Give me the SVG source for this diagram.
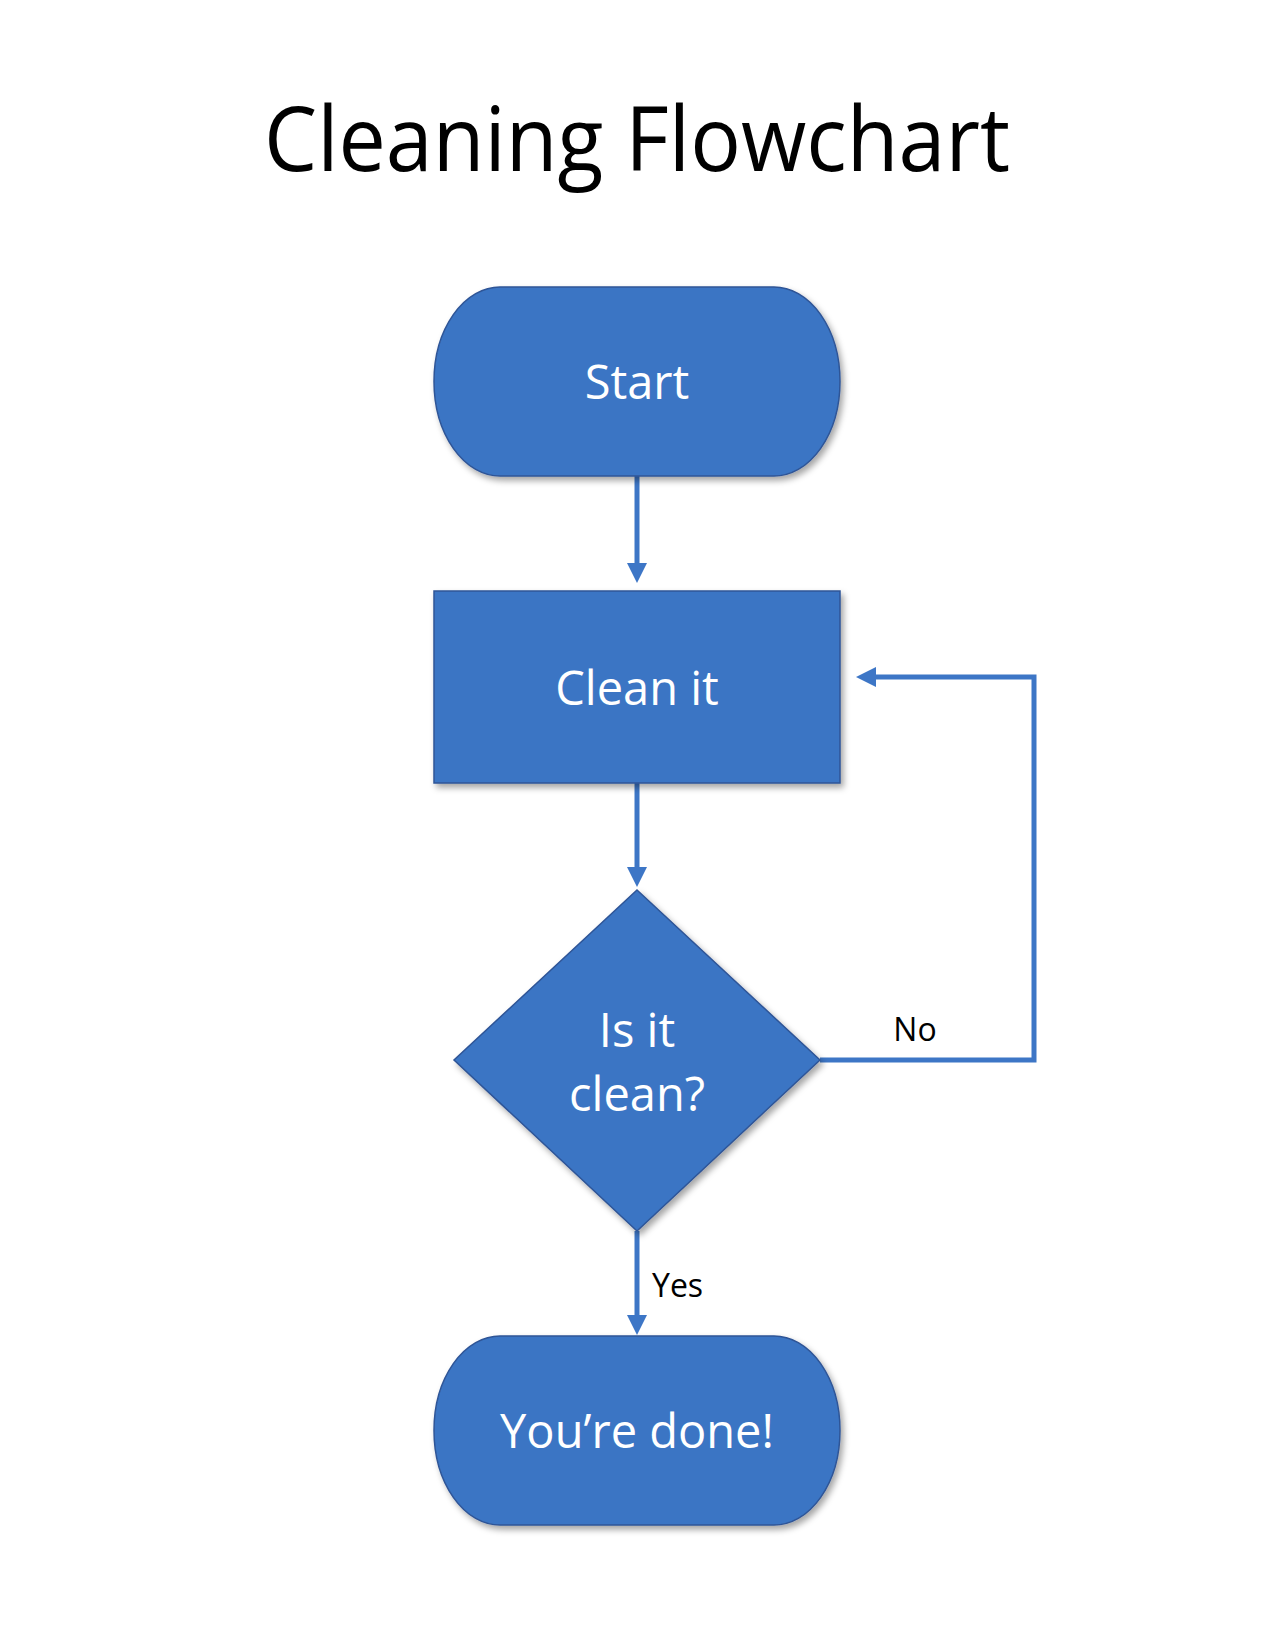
<svg xmlns="http://www.w3.org/2000/svg" width="1275" height="1650" viewBox="0 0 1275 1650">
  <defs>
    <filter id="sh" x="-10%" y="-10%" width="125%" height="125%">
      <feDropShadow dx="3" dy="4" stdDeviation="3" flood-color="#000" flood-opacity="0.35"/>
    </filter>
    <marker id="ah" viewBox="0 0 20 20" refX="2" refY="10" markerWidth="20" markerHeight="20" orient="auto" markerUnits="userSpaceOnUse">
      <path d="M0,0 L20,10 L0,20 z" fill="#3D76C6"/>
    </marker>
    <style>
      .shape { fill: #3A75C4; stroke: #2F5597; stroke-width: 1.5; filter: url(#sh); }
      .nt { font-family: "Open Sans", "Liberation Sans", sans-serif; fill: #FFFFFF; font-size: 47px; text-anchor: middle; }
      .lbl { font-family: "Open Sans", "Liberation Sans", sans-serif; fill: #000; font-size: 32px; }
      .conn { fill: none; stroke: #3D76C6; stroke-width: 5; }
    </style>
  </defs>
  <rect width="1275" height="1650" fill="#FFFFFF"/>
  <text x="637" y="171" font-family="'Open Sans', 'Liberation Sans', sans-serif" font-size="90" text-anchor="middle" fill="#000" textLength="746" lengthAdjust="spacingAndGlyphs">Cleaning Flowchart</text>

  <g id="connectors">
    <line class="conn" x1="637" y1="476" x2="637" y2="565" marker-end="url(#ah)"/>
    <line class="conn" x1="637" y1="783" x2="637" y2="869" marker-end="url(#ah)"/>
    <polyline class="conn" points="820,1060 1034,1060 1034,677 874,677" marker-end="url(#ah)"/>
    <line class="conn" x1="637" y1="1231" x2="637" y2="1317" marker-end="url(#ah)"/>
    <text class="lbl" x="915" y="1041" text-anchor="middle">No</text>
    <text class="lbl" x="652" y="1297">Yes</text>
  </g>

  <g id="start">
    <rect class="shape" x="434" y="287" width="406" height="189" rx="66" ry="94.5"/>
    <text class="nt" x="637" y="399">Start</text>
  </g>

  <g id="clean-it">
    <rect class="shape" x="434" y="591" width="406" height="192"/>
    <text class="nt" x="637" y="705">Clean it</text>
  </g>

  <g id="is-it-clean">
    <polygon class="shape" points="637,890 820,1060 637,1231 454,1060"/>
    <text class="nt" x="637" y="1047">Is it</text>
    <text class="nt" x="637" y="1111">clean?</text>
  </g>

  <g id="done">
    <rect class="shape" x="434" y="1336" width="406" height="189" rx="66" ry="94.5"/>
    <text class="nt" x="637" y="1448">You’re done!</text>
  </g>
</svg>
